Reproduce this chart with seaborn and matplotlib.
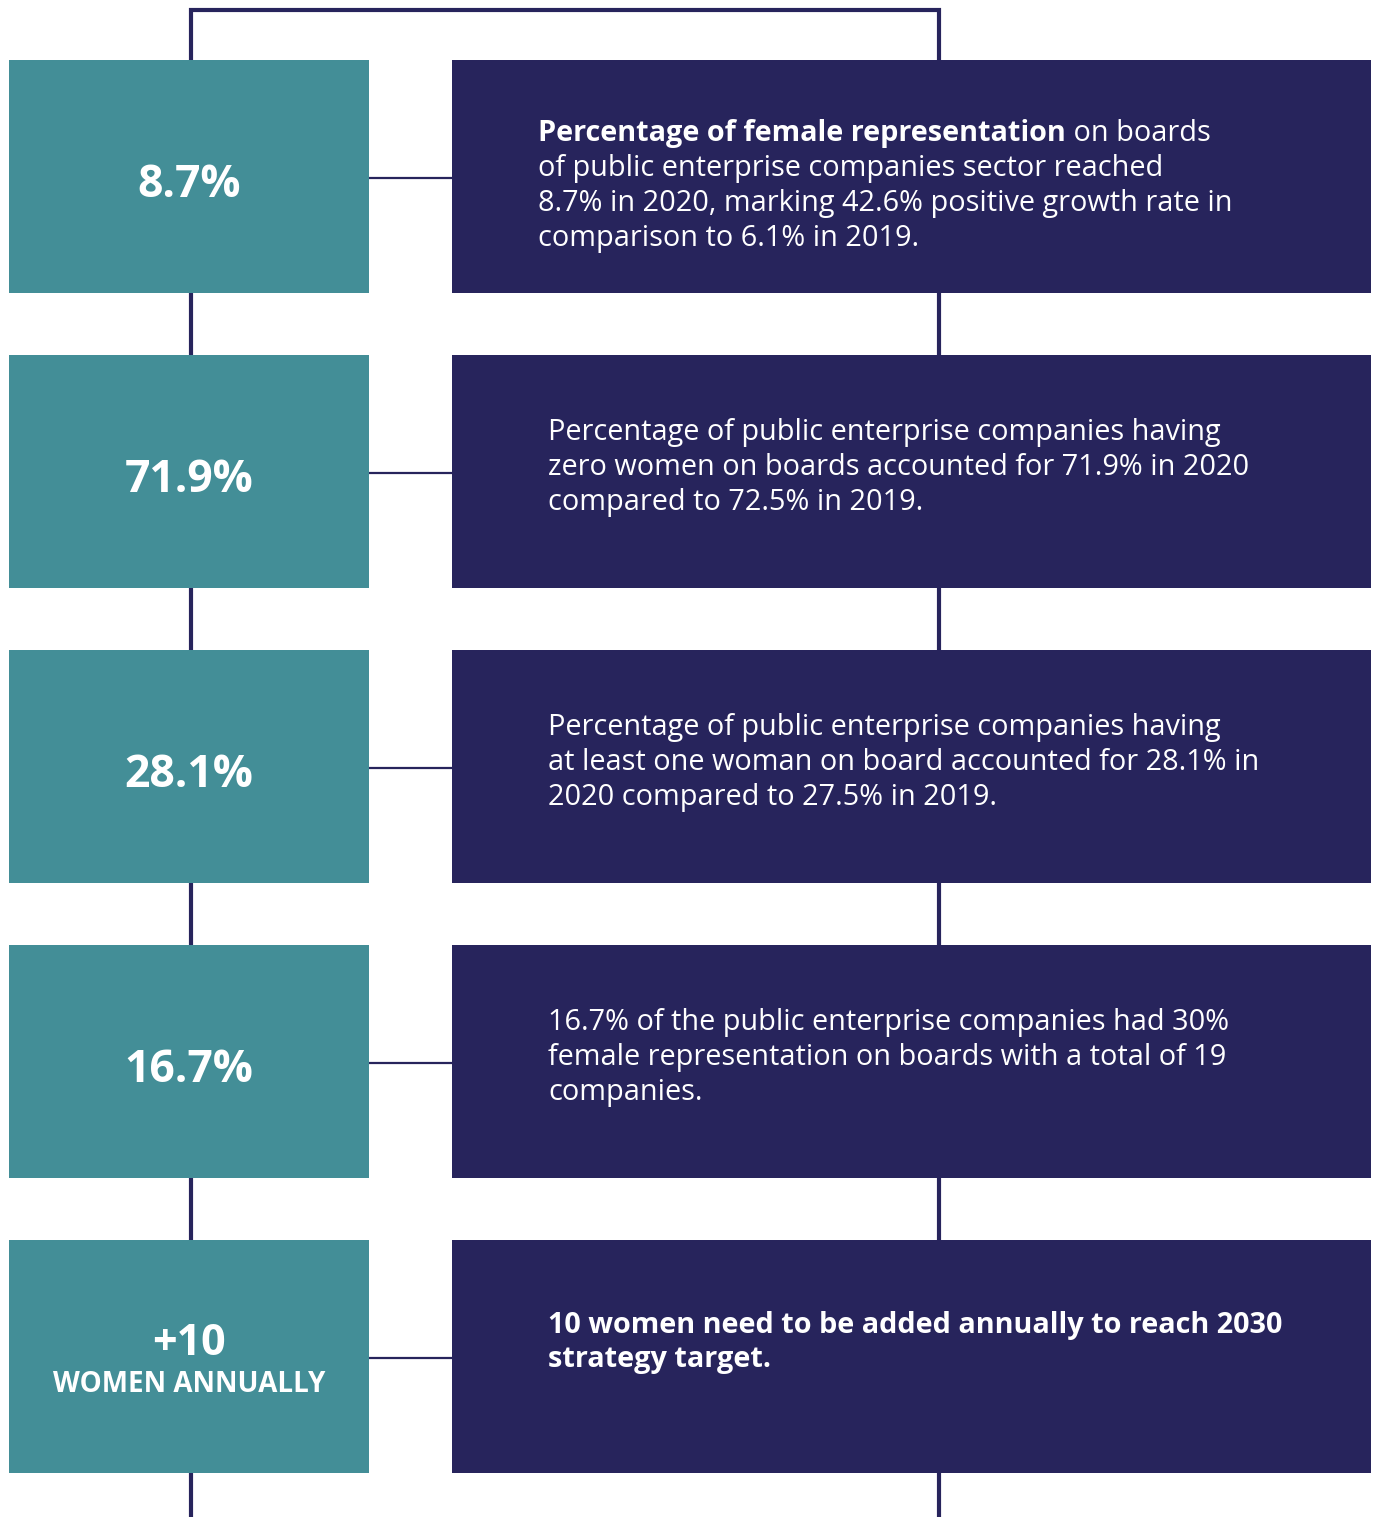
import matplotlib
matplotlib.use("Agg")
import matplotlib.pyplot as plt
from matplotlib.patches import Rectangle
import seaborn as sns

# ------------------- Données -------------------
headline_values = ["8.7%", "71.9%", "28.1%", "16.7%", "+10"]
headline_sub = ["", "", "", "", "WOMEN ANNUALLY"]

# Texte de chaque encadré (une entrée par ligne)
desc_lines = [
    ["of public enterprise companies sector reached",
     "8.7% in 2020, marking 42.6% positive growth rate in",
     "comparison to 6.1% in 2019."],
    ["Percentage of public enterprise companies having",
     "zero women on boards accounted for 71.9% in 2020",
     "compared to 72.5% in 2019."],
    ["Percentage of public enterprise companies having",
     "at least one woman on board accounted for 28.1% in",
     "2020 compared to 27.5% in 2019."],
    ["16.7% of the public enterprise companies had 30%",
     "female representation on boards with a total of 19",
     "companies."],
    ["10 women need to be added annually to reach 2030",
     "strategy target."],
]
first_bold = "Percentage of female representation"
first_regular = " on boards"
desc_bold = [False, False, False, False, True]

TEAL = "#438E97"
NAVY = "#27245C"

# ------------------- Mise en page -------------------
sns.set_theme(style="white")
plt.rcParams['font.family'] = ['Open Sans', 'DejaVu Sans']

W, H = 1378, 1517
fig = plt.figure(figsize=(W / 100, H / 100), dpi=100)
ax = fig.add_axes([0, 0, 1, 1])
ax.set_xlim(0, W)
ax.set_ylim(H, 0)
ax.axis("off")

row_top = 60
row_step = 295
box_h = 233
left_x0, left_x1 = 9, 369
right_x0, right_x1 = 452, 1371
spine_l, spine_r = 191, 939
FS = 20.8

# cadre de liaison
ax.plot([spine_l, spine_l, spine_r, spine_r], [H, 10, 10, H],
        color=NAVY, lw=3, solid_capstyle="butt", solid_joinstyle="miter", zorder=1)

fig.canvas.draw()
renderer = fig.canvas.get_renderer()

for i, val in enumerate(headline_values):
    top = row_top + i * row_step
    cy = top + box_h / 2
    ax.plot([left_x1, right_x0], [cy + 1, cy + 1], color=NAVY, lw=1.6, zorder=1)
    ax.add_patch(Rectangle((left_x0, top), left_x1 - left_x0, box_h,
                           color=TEAL, lw=0, zorder=2))
    ax.add_patch(Rectangle((right_x0, top), right_x1 - right_x0, box_h,
                           color=NAVY, lw=0, zorder=2))

    if headline_sub[i]:
        ax.text(189, cy - 13, val, color="white", fontsize=31, fontweight="bold",
                ha="center", va="center", zorder=3)
        ax.text(189, cy + 28, headline_sub[i], color="white", fontsize=20,
                fontweight="bold", ha="center", va="center", zorder=3)
    else:
        ax.text(189, cy + 9, val, color="white", fontsize=32, fontweight="bold",
                ha="center", va="center", zorder=3)

    lines = desc_lines[i]
    weight = "bold" if desc_bold[i] else "medium"
    if i == 0:
        tx = 538
        y0 = top + 73
        t = ax.text(tx, y0, first_bold, color="white", fontsize=FS,
                    fontweight="bold", ha="left", va="center", zorder=3)
        bb = t.get_window_extent(renderer=renderer)
        ax.text(tx + bb.width, y0, first_regular, color="white", fontsize=FS,
                fontweight="medium", ha="left", va="center", zorder=3)
        for k, line in enumerate(lines):
            ax.text(tx, y0 + 35 * (k + 1), line, color="white", fontsize=FS,
                    fontweight="medium", ha="left", va="center", zorder=3)
    else:
        tx = 548
        n = len(lines)
        y0 = cy - 35 * (n - 1) / 2 - (4 if n == 3 else 14)
        for k, line in enumerate(lines):
            ax.text(tx, y0 + 35 * k, line, color="white", fontsize=FS,
                    fontweight=weight, ha="left", va="center", zorder=3)

fig.savefig("out.png", dpi=100)
